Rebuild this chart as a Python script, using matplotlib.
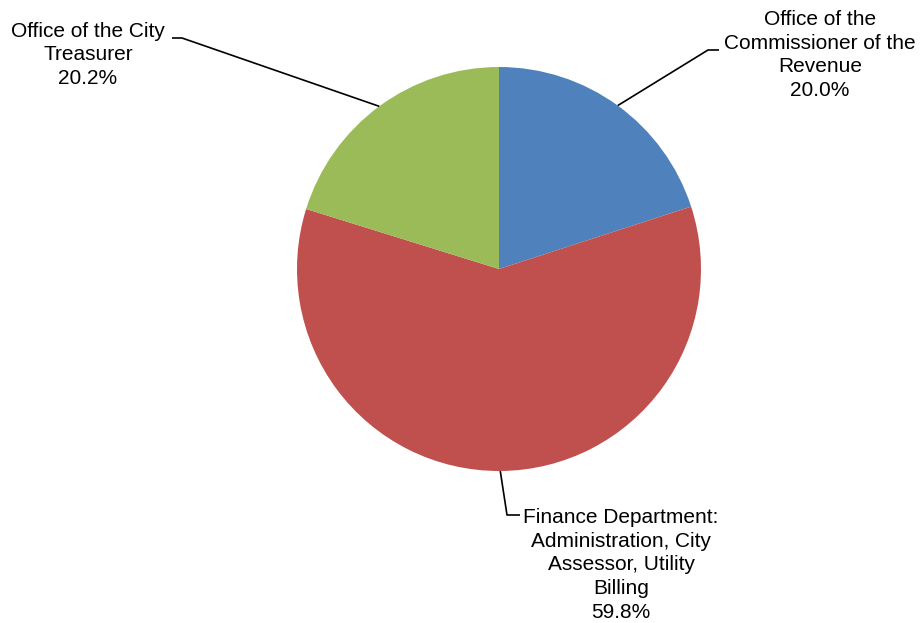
import numpy as np
import matplotlib.pyplot as plt

plt.rcParams['font.family'] = ['Liberation Sans', 'DejaVu Sans']

labels = ['Office of the\nCommissioner of the\nRevenue',
          'Finance Department:\nAdministration, City\nAssessor, Utility\nBilling',
          'Office of the City\nTreasurer']
shares = [20.0, 59.8, 20.2]
colors = ['#4F81BD', '#C0504D', '#9BBB59']

W, H = 922, 623
fig = plt.figure(figsize=(W / 100, H / 100), dpi=100)
ax = fig.add_axes([0, 0, 1, 1])

cx, cy, r = 499, 354, 202
wedges, _ = ax.pie(shares, colors=colors, startangle=90, counterclock=False,
                   center=(cx, cy), radius=r, frame=True,
                   wedgeprops=dict(linewidth=0))
ax.set_xlim(0, W)
ax.set_ylim(0, H)
ax.set_aspect('equal')
ax.axis('off')

# label centre, leader elbow, leader end
layout = [
    dict(text=(820, 568), elbow=(708, 573), end=(719, 573)),
    dict(text=(621, 58), elbow=(507, 108), end=(520, 108)),
    dict(text=(88, 568), elbow=(182, 585), end=(172, 585)),
]

for w, lab, val, lo in zip(wedges, labels, shares, layout):
    mid = np.deg2rad((w.theta1 + w.theta2) / 2)
    sx, sy = cx + r * np.cos(mid), cy + r * np.sin(mid)
    ex, ey = lo['elbow']
    fx, fy = lo['end']
    ax.plot([sx, ex, fx], [sy, ey, fy], color='black', lw=1.2,
            solid_capstyle='butt')
    ax.text(lo['text'][0], lo['text'][1], f'{lab}\n{val:.1f}%',
            ha='center', va='center', fontsize=15, linespacing=1.32,
            multialignment='center')

fig.savefig('out.png', dpi=100)
